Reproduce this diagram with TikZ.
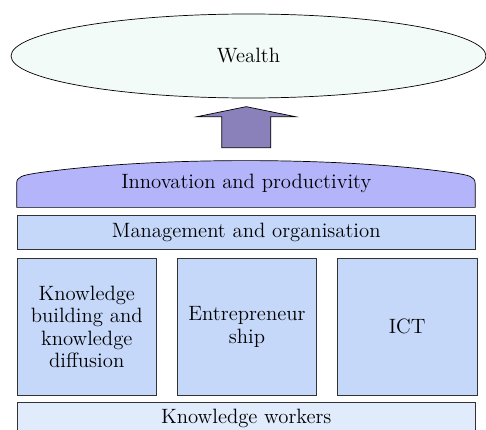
\documentclass[tikz,border=0pt]{standalone}
\usepackage{tikz}
\usetikzlibrary{shapes.geometric, positioning, calc, backgrounds}
\definecolor{wealthfill}{HTML}{F3FBF8}
\definecolor{arrowfill}{HTML}{8A80BA}
\definecolor{innovfill}{HTML}{B4B4FA}
\definecolor{layerfill}{HTML}{C6D8FA}
\definecolor{workerfill}{HTML}{E0EBFC}
\tikzstyle{goal} = [ellipse, minimum width=9.5cm, minimum height=1.68cm, text centered, draw=black, fill=wealthfill]
\tikzstyle{layer} = [rectangle, minimum width=9.17cm, minimum height=0.68cm, inner sep=0pt, text centered, draw=black!80, fill=layerfill]
\tikzstyle{pillar} = [rectangle, minimum width=2.79cm, minimum height=2.74cm, inner sep=0pt, text width=2.7cm, align=center, draw=black!80, fill=layerfill]
\tikzstyle{bigarrow} = [draw=black, fill=arrowfill]

\begin{document}
\begin{tikzpicture}[node distance=0.16cm, font=\fontsize{11.8}{12.6}\selectfont]
			\useasboundingbox (0,0) rectangle (9.72,-8.6);
			
			\node (wealth) [goal] at (4.97,-1.12) {Wealth};
			
			\node (innov) [layer, minimum height=0.94cm, draw=none, fill=none] at (4.925,-3.67) {Innovation and productivity};
			
			\node (mgmt) [layer, below=of innov] {Management and organisation};
			
			\node (kbuild) [pillar, below right=0.16cm and 0cm of mgmt.south west] {Knowledge\\building and\\knowledge\\diffusion};
			
			\node (entre) [pillar, right=0.4cm of kbuild] {Entrepreneur\\ship};
			
			\node (ict) [pillar, right=0.4cm of entre] {ICT};
			
			\node (workers) [layer, fill=workerfill, minimum height=0.66cm, below right=0.12cm and 0cm of kbuild.south west] {Knowledge workers};
			
			% curved top of the innovation layer
			\begin{scope}[on background layer]
			\draw [draw=black, fill=innovfill] (innov.south west) -- ++(0,0.48) .. controls +(0,0.14) and +(-0.22,-0.04) .. ++(0.36,0.2) .. controls +(2.3,0.34) and +(-2.3,0.34) .. ++(8.45,0) .. controls +(0.22,-0.04) and +(0,0.14) .. ++(0.36,-0.2) |- (innov.south west) -- cycle;
			\end{scope}
			
			% block arrow up to wealth
			\coordinate (tip) at ($(innov.north)+(0,1.06)$);
			\draw [bigarrow] (tip) -- ++(0.98,-0.2) -- ++(-0.49,0) -- ++(0,-0.62) -- ++(-0.98,0) -- ++(0,0.62) -- ++(-0.49,0) -- cycle;
			\end{tikzpicture}
\end{document}
